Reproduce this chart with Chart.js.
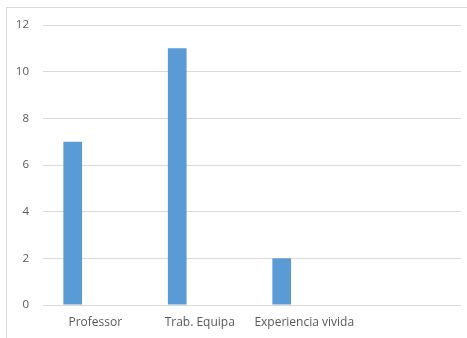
<!DOCTYPE html>
<html>
<head>
<meta charset="utf-8">
<script src="https://cdn.jsdelivr.net/npm/chart.js@4/dist/chart.umd.min.js"></script>
<style>
  html, body { margin: 0; padding: 0; background: #fff; }
  #frame {
    position: absolute; left: 6px; top: 7px; width: 461px; height: 331px;
    border-top: 1px solid #d9d9d9; border-left: 1px solid #d9d9d9;
  }
  #wrap { position: absolute; left: 0; top: 0; width: 467px; height: 338px; }
</style>
</head>
<body>
<div id="frame"></div>
<div id="wrap"><canvas id="chart" width="467" height="338"></canvas></div>
<script>
var categorias = ["Professor", "Trab. Equipa", "Experiencia vivida", ""];
var serie1 = [7, 11, 2, null];
var serie2 = [null, null, null, null];
var serie3 = [null, null, null, null];
var yTicks = [0, 2, 4, 6, 8, 10, 12];

var azul = "#5b9bd5";
var cinza = "#d9d9d9";

var ctx = document.getElementById("chart").getContext("2d");

var chart = new Chart(ctx, {
  type: "bar",
  data: {
    labels: categorias,
    datasets: [
      { label: "Série 1", data: serie1, backgroundColor: azul },
      { label: "Série 2", data: serie2, backgroundColor: "#ed7d31" },
      { label: "Série 3", data: serie3, backgroundColor: "#a5a5a5" }
    ]
  },
  options: {
    responsive: false,
    animation: false,
    categoryPercentage: 0.647,
    barPercentage: 0.83,
    layout: { padding: { top: 25, right: 6, bottom: 0, left: 0 } },
    plugins: { legend: { display: false }, tooltip: { enabled: false } },
    scales: {
      x: {
        grid: { display: false, drawTicks: false },
        border: { display: false },
        ticks: {
          padding: 10,
          color: "#595959",
          font: { family: "Open Sans", size: 12 },
          maxRotation: 0,
          autoSkip: false
        },
        afterFit: function (scale) { scale.height = 33; }
      },
      y: {
        min: yTicks[0],
        max: yTicks[yTicks.length - 1],
        afterBuildTicks: function (scale) {
          scale.ticks = yTicks.map(function (v) { return { value: v }; });
        },
        grid: { color: cinza, lineWidth: 1, drawTicks: false },
        border: { display: false },
        ticks: {
          padding: 14,
          color: "#595959",
          font: { family: "Open Sans", size: 11.5 }
        },
        afterFit: function (scale) { scale.width = 43; }
      }
    }
  }
});
</script>
</body>
</html>
